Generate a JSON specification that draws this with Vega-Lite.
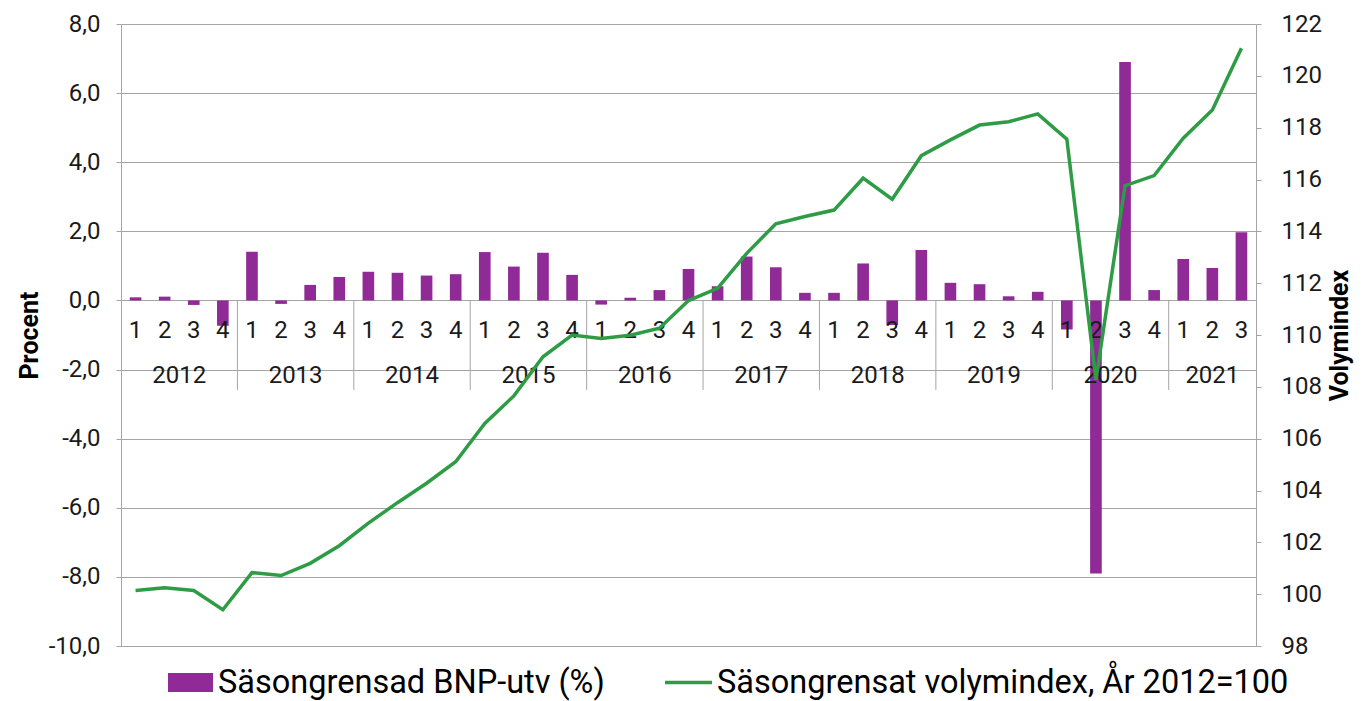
{
  "$schema": "https://vega.github.io/schema/vega-lite/v6.json",
  "width": 1135,
  "height": 622,
  "autosize": {"type": "none"},
  "padding": {"left": 121, "top": 24, "right": 106, "bottom": 55},
  "background": "#ffffff",
  "config": {
    "view": {"stroke": null},
    "font": "Roboto",
    "scale": {"bandPaddingInner": 0, "bandPaddingOuter": 0},
    "axis": {
      "labelFont": "Roboto",
      "labelFontSize": 24,
      "labelColor": "#1a1a1a",
      "titleFont": "Roboto",
      "titleColor": "#000000",
      "domainColor": "#a5a5a5",
      "tickColor": "#a5a5a5",
      "gridColor": "#a5a5a5",
      "tickSize": 5
    },
    "legend": {
      "labelFont": "Roboto",
      "labelFontSize": 32.5,
      "labelColor": "#000000",
      "labelLimit": 0,
      "padding": 0
    }
  },
  "data": {
    "values": [
      {"q": "2012-1", "year": 2012, "quarter": 1, "bnp": 0.09, "index": 100.14},
      {"q": "2012-2", "year": 2012, "quarter": 2, "bnp": 0.11, "index": 100.25},
      {"q": "2012-3", "year": 2012, "quarter": 3, "bnp": -0.13, "index": 100.14},
      {"q": "2012-4", "year": 2012, "quarter": 4, "bnp": -0.73, "index": 99.4},
      {"q": "2013-1", "year": 2013, "quarter": 1, "bnp": 1.41, "index": 100.83},
      {"q": "2013-2", "year": 2013, "quarter": 2, "bnp": -0.1, "index": 100.72},
      {"q": "2013-3", "year": 2013, "quarter": 3, "bnp": 0.45, "index": 101.19},
      {"q": "2013-4", "year": 2013, "quarter": 4, "bnp": 0.68, "index": 101.87},
      {"q": "2014-1", "year": 2014, "quarter": 1, "bnp": 0.83, "index": 102.74},
      {"q": "2014-2", "year": 2014, "quarter": 2, "bnp": 0.8, "index": 103.53},
      {"q": "2014-3", "year": 2014, "quarter": 3, "bnp": 0.72, "index": 104.28},
      {"q": "2014-4", "year": 2014, "quarter": 4, "bnp": 0.76, "index": 105.11},
      {"q": "2015-1", "year": 2015, "quarter": 1, "bnp": 1.4, "index": 106.59},
      {"q": "2015-2", "year": 2015, "quarter": 2, "bnp": 0.98, "index": 107.65},
      {"q": "2015-3", "year": 2015, "quarter": 3, "bnp": 1.38, "index": 109.16},
      {"q": "2015-4", "year": 2015, "quarter": 4, "bnp": 0.74, "index": 110.0},
      {"q": "2016-1", "year": 2016, "quarter": 1, "bnp": -0.12, "index": 109.87},
      {"q": "2016-2", "year": 2016, "quarter": 2, "bnp": 0.08, "index": 109.99},
      {"q": "2016-3", "year": 2016, "quarter": 3, "bnp": 0.3, "index": 110.26},
      {"q": "2016-4", "year": 2016, "quarter": 4, "bnp": 0.91, "index": 111.33},
      {"q": "2017-1", "year": 2017, "quarter": 1, "bnp": 0.41, "index": 111.8},
      {"q": "2017-2", "year": 2017, "quarter": 2, "bnp": 1.27, "index": 113.15},
      {"q": "2017-3", "year": 2017, "quarter": 3, "bnp": 0.96, "index": 114.29},
      {"q": "2017-4", "year": 2017, "quarter": 4, "bnp": 0.22, "index": 114.57},
      {"q": "2018-1", "year": 2018, "quarter": 1, "bnp": 0.22, "index": 114.82},
      {"q": "2018-2", "year": 2018, "quarter": 2, "bnp": 1.07, "index": 116.05},
      {"q": "2018-3", "year": 2018, "quarter": 3, "bnp": -0.71, "index": 115.24},
      {"q": "2018-4", "year": 2018, "quarter": 4, "bnp": 1.46, "index": 116.92},
      {"q": "2019-1", "year": 2019, "quarter": 1, "bnp": 0.51, "index": 117.53},
      {"q": "2019-2", "year": 2019, "quarter": 2, "bnp": 0.47, "index": 118.1},
      {"q": "2019-3", "year": 2019, "quarter": 3, "bnp": 0.12, "index": 118.23},
      {"q": "2019-4", "year": 2019, "quarter": 4, "bnp": 0.25, "index": 118.53},
      {"q": "2020-1", "year": 2020, "quarter": 1, "bnp": -0.84, "index": 117.56},
      {"q": "2020-2", "year": 2020, "quarter": 2, "bnp": -7.9, "index": 108.27},
      {"q": "2020-3", "year": 2020, "quarter": 3, "bnp": 6.9, "index": 115.76},
      {"q": "2020-4", "year": 2020, "quarter": 4, "bnp": 0.3, "index": 116.15},
      {"q": "2021-1", "year": 2021, "quarter": 1, "bnp": 1.2, "index": 117.59},
      {"q": "2021-2", "year": 2021, "quarter": 2, "bnp": 0.94, "index": 118.68},
      {"q": "2021-3", "year": 2021, "quarter": 3, "bnp": 1.97, "index": 121.06}
    ]
  },
  "layer": [
    {
      "layer": [
        {
          "mark": {"type": "bar", "width": {"band": 0.4}},
          "encoding": {
            "x": {"field": "q", "type": "nominal", "sort": null, "axis": null},
            "y": {
              "field": "bnp",
              "type": "quantitative",
              "scale": {"domain": [-10, 8], "nice": false, "zero": false},
              "axis": {
                "values": [-10, -8, -6, -4, -2, 0, 2, 4, 6, 8],
                "labelExpr": "replace((datum.value < 0 ? '-' : '') + format(abs(datum.value), '.1f'), '.', ',')",
                "labelPadding": 16,
                "grid": true,
                "title": "Procent",
                "titleFontSize": 25,
                "titleFontWeight": "bold",
                "titlePadding": 6
              }
            },
            "fill": {
              "datum": "Säsongrensad BNP-utv (%)",
              "type": "nominal",
              "scale": {"domain": ["Säsongrensad BNP-utv (%)"], "range": ["#8f2a96"]},
              "legend": {
                "title": null,
                "orient": "none",
                "legendX": 47,
                "legendY": 636,
                "symbolType": "M-1,-0.42H1V0.42H-1Z",
                "symbolSize": 2025,
                "symbolStrokeWidth": 0,
                "symbolOpacity": 1,
                "labelOffset": 5
              }
            }
          }
        },
        {
          "transform": [{"filter": "datum.quarter == 1 && datum.year > 2012"}],
          "mark": {"type": "rule", "color": "#a5a5a5", "strokeWidth": 1},
          "encoding": {
            "x": {"field": "q", "type": "nominal", "sort": null, "axis": null, "bandPosition": 0},
            "y": {"datum": 0},
            "y2": {"datum": -2.59}
          }
        },
        {
          "mark": {"type": "text", "fontSize": 24, "font": "Roboto", "color": "#1a1a1a", "baseline": "alphabetic", "align": "center"},
          "encoding": {
            "x": {"field": "q", "type": "nominal", "sort": null, "axis": null},
            "y": {"datum": -1.1},
            "text": {"field": "quarter", "type": "nominal"}
          }
        },
        {
          "transform": [{"filter": "datum.quarter == 3 && datum.year < 2021"}],
          "mark": {"type": "text", "fontSize": 24, "font": "Roboto", "color": "#1a1a1a", "baseline": "alphabetic", "align": "center"},
          "encoding": {
            "x": {"field": "q", "type": "nominal", "sort": null, "axis": null, "bandPosition": 0},
            "y": {"datum": -2.4},
            "text": {"field": "year", "type": "nominal"}
          }
        },
        {
          "transform": [{"filter": "datum.quarter == 2 && datum.year == 2021"}],
          "mark": {"type": "text", "fontSize": 24, "font": "Roboto", "color": "#1a1a1a", "baseline": "alphabetic", "align": "center"},
          "encoding": {
            "x": {"field": "q", "type": "nominal", "sort": null, "axis": null, "bandPosition": 0.5},
            "y": {"datum": -2.4},
            "text": {"field": "year", "type": "nominal"}
          }
        }
      ]
    },
    {
      "mark": {"type": "line", "strokeWidth": 3.5, "interpolate": "linear"},
      "encoding": {
        "x": {"field": "q", "type": "nominal", "sort": null, "axis": null},
        "y": {
          "field": "index",
          "type": "quantitative",
          "scale": {"domain": [98, 122], "nice": false, "zero": false},
          "axis": {
            "orient": "right",
            "values": [98, 100, 102, 104, 106, 108, 110, 112, 114, 116, 118, 120, 122],
            "grid": false,
            "labelPadding": 20,
            "title": "Volymindex",
            "titleFontSize": 25,
            "titleFontWeight": "bold",
            "titleAngle": -90,
            "titleBaseline": "top",
            "titlePadding": 6
          }
        },
        "stroke": {
          "datum": "Säsongrensat volymindex, År 2012=100",
          "type": "nominal",
          "scale": {"domain": ["Säsongrensat volymindex, År 2012=100"], "range": ["#2e9c45"]},
          "legend": {
            "title": null,
            "orient": "none",
            "legendX": 542,
            "legendY": 633,
            "symbolType": "stroke",
            "symbolSize": 2209,
            "symbolStrokeWidth": 3.5,
            "labelOffset": 3
          }
        }
      }
    }
  ],
  "resolve": {"scale": {"y": "independent"}}
}
